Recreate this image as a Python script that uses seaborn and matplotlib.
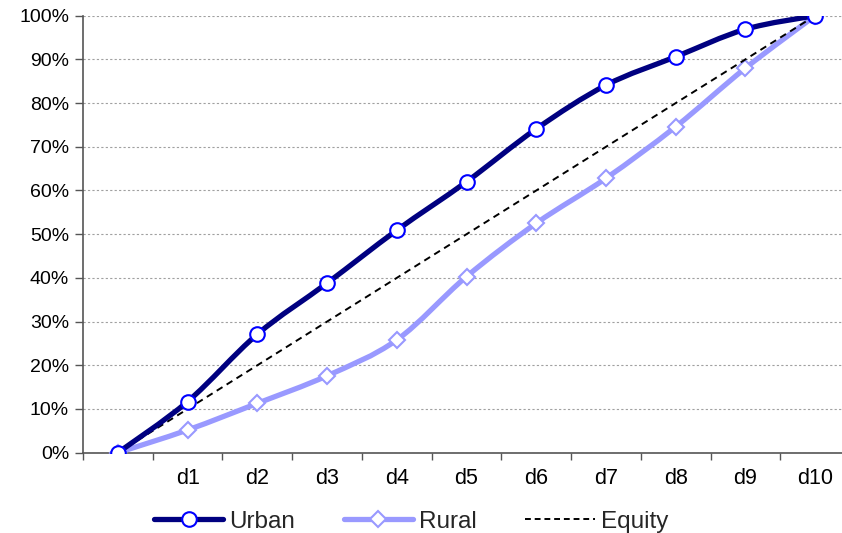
import matplotlib
matplotlib.use("Agg")
import matplotlib.pyplot as plt
import seaborn as sns
import pandas as pd
from matplotlib.path import Path
from matplotlib.patches import PathPatch
from matplotlib.lines import Line2D
from matplotlib.ticker import FixedLocator, FuncFormatter

# Cumulative share by decile (concentration curves)
categories = ["", "d1", "d2", "d3", "d4", "d5", "d6", "d7", "d8", "d9", "d10"]
urban = [0.0, 0.117, 0.271, 0.388, 0.509, 0.620, 0.741, 0.841, 0.906, 0.969, 1.0]
rural = [0.0, 0.052, 0.113, 0.176, 0.258, 0.403, 0.525, 0.628, 0.746, 0.880, 1.0]
equity = [0.0, 0.1, 0.2, 0.3, 0.4, 0.5, 0.6, 0.7, 0.8, 0.9, 1.0]

df = pd.DataFrame({
    "pos": list(range(len(categories))),
    "Urban": urban,
    "Rural": rural,
    "Equity": equity,
})

URBAN_LINE, URBAN_EDGE = "#000080", "#0000FF"
RURAL = "#9999FF"


def smooth_path(xs, ys):
    """Cubic Bezier path through the points (Catmull-Rom style smoothing)."""
    pts = list(zip(xs, ys))
    n = len(pts)
    verts = [pts[0]]
    codes = [Path.MOVETO]
    for i in range(n - 1):
        p0 = pts[i - 1] if i > 0 else pts[i]
        p1 = pts[i]
        p2 = pts[i + 1]
        p3 = pts[i + 2] if i + 2 < n else pts[i + 1]
        c1 = (p1[0] + (p2[0] - p0[0]) / 6, p1[1] + (p2[1] - p0[1]) / 6)
        c2 = (p2[0] - (p3[0] - p1[0]) / 6, p2[1] - (p3[1] - p1[1]) / 6)
        verts += [c1, c2, p2]
        codes += [Path.CURVE4] * 3
    return Path(verts, codes)


sns.set_theme(style="white")
plt.rcParams["font.family"] = ["Liberation Sans", "DejaVu Sans"]

fig = plt.figure(figsize=(8.42, 5.33), dpi=100)
ax = fig.add_axes([83 / 842, 1 - 452.7 / 533, (850 - 83) / 842, (452.7 - 15.7) / 533])

# smoothed series lines
ax.add_patch(PathPatch(smooth_path(df["pos"], df["Rural"]), facecolor="none",
                       edgecolor=RURAL, linewidth=3.8, capstyle="round",
                       joinstyle="round", zorder=3))
sns.lineplot(data=df, x="pos", y="Equity", ax=ax, color="black", linewidth=1.4,
             linestyle=(0, (3.5, 2.5)), zorder=4)
ax.add_patch(PathPatch(smooth_path(df["pos"], df["Urban"]), facecolor="none",
                       edgecolor=URBAN_LINE, linewidth=3.8, capstyle="round",
                       joinstyle="round", zorder=5))

# data markers
sns.lineplot(data=df, x="pos", y="Rural", ax=ax, linestyle="none",
             marker="D", markersize=8, markerfacecolor="white",
             markeredgecolor=RURAL, markeredgewidth=1.5, zorder=3.5)
sns.lineplot(data=df, x="pos", y="Urban", ax=ax, linestyle="none",
             marker="o", markersize=10.5, markerfacecolor="white",
             markeredgecolor=URBAN_EDGE, markeredgewidth=1.5, zorder=6)

ax.set_xlim(-0.5, len(categories) - 0.5)
ax.set_ylim(0, 1.0)

# category labels at centres, tick marks on category boundaries
ax.xaxis.set_major_locator(FixedLocator(df["pos"].tolist()))
ax.set_xticklabels(categories)
ax.xaxis.set_minor_locator(FixedLocator([p - 0.5 for p in df["pos"]] + [len(categories) - 0.5]))
ax.tick_params(axis="x", which="major", length=0, pad=11, labelsize=15.5, colors="black")
ax.tick_params(axis="x", which="minor", length=5, width=1, color="#555555", direction="out", bottom=True)

ax.yaxis.set_major_locator(FixedLocator([i / 10 for i in range(11)]))
ax.yaxis.set_major_formatter(FuncFormatter(lambda v, _: f"{v * 100:.0f}%"))
ax.tick_params(axis="y", length=6, width=1, color="#555555", direction="out", left=True,
               labelsize=14, labelcolor="black", pad=4)

ax.grid(axis="y", color="#A0A0A0", linestyle=(0, (2, 2)), linewidth=0.8)
ax.grid(axis="x", visible=False)
ax.set_axisbelow(True)

for side in ["top", "right"]:
    ax.spines[side].set_visible(False)
for side in ["left", "bottom"]:
    ax.spines[side].set_color("#555555")
    ax.spines[side].set_linewidth(1.2)

ax.set_xlabel("")
ax.set_ylabel("")

legend_handles = [
    Line2D([], [], color=URBAN_LINE, linewidth=3.8, marker="o", markersize=10.5,
           markerfacecolor="white", markeredgecolor=URBAN_EDGE, markeredgewidth=1.5),
    Line2D([], [], color=RURAL, linewidth=3.8, marker="D", markersize=8,
           markerfacecolor="white", markeredgecolor=RURAL, markeredgewidth=1.5),
    Line2D([], [], color="black", linewidth=1.4, linestyle=(0, (3, 2))),
]
ax.legend(legend_handles, ["Urban", "Rural", "Equity"],
          loc="center", bbox_to_anchor=((411 - 83) / 767, (453 - 522) / 437),
          ncol=3, frameon=False, fontsize=17.5, handlelength=2.85,
          columnspacing=2.0, handletextpad=0.25)

fig.savefig("out.png", dpi=100)
